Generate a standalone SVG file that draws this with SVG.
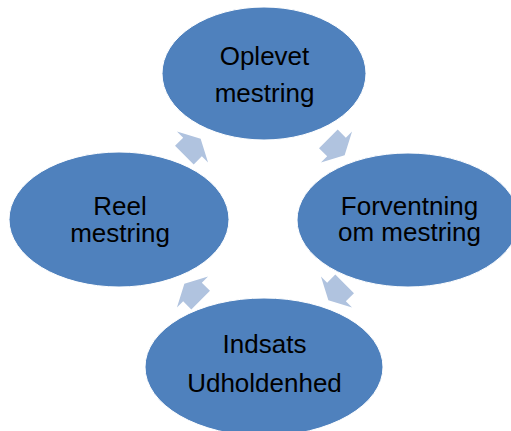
<svg xmlns="http://www.w3.org/2000/svg" xmlns:xlink="http://www.w3.org/1999/xlink" width="511" height="431" viewBox="0 0 511 431">
  <style>
    .node ellipse { fill: #4F81BD; stroke: #ffffff; stroke-width: 1; }
    .node text { font-family: "Liberation Sans", Arial, sans-serif; font-size: 26px; fill: #000000; text-anchor: middle; }
    .arrow { fill: #B0C3DF; }
  </style>
  <defs>
    <polygon id="arr" points="-11.5,-13.2 0,-13.2 0,-22 11.5,0 0,22 0,13.2 -11.5,13.2"/>
  </defs>
  <rect width="511" height="431" fill="#ffffff"/>
  <g id="connectors">
    <use xlink:href="#arr" class="arrow" transform="translate(192.5,147) rotate(-45)"/>
    <use xlink:href="#arr" class="arrow" transform="translate(336.5,147) rotate(45)"/>
    <use xlink:href="#arr" class="arrow" transform="translate(336.5,292) rotate(135)"/>
    <use xlink:href="#arr" class="arrow" transform="translate(192.5,292) rotate(-135)"/>
  </g>
  <g id="node-oplevet" class="node">
    <ellipse cx="264" cy="73.5" rx="102" ry="66.5"/>
    <text x="264.5" y="65">Oplevet</text>
    <text x="264.5" y="102">mestring</text>
  </g>
  <g id="node-forventning" class="node">
    <ellipse cx="408" cy="220" rx="111" ry="67"/>
    <text x="409.5" y="215">Forventning</text>
    <text x="409.5" y="240.5">om mestring</text>
  </g>
  <g id="node-indsats" class="node">
    <ellipse cx="264" cy="367" rx="119" ry="69"/>
    <text x="264.5" y="353">Indsats</text>
    <text x="264.5" y="391.5">Udholdenhed</text>
  </g>
  <g id="node-reel" class="node">
    <ellipse cx="119" cy="219.5" rx="110" ry="67.5"/>
    <text x="120" y="215">Reel</text>
    <text x="120" y="241.5">mestring</text>
  </g>
</svg>
